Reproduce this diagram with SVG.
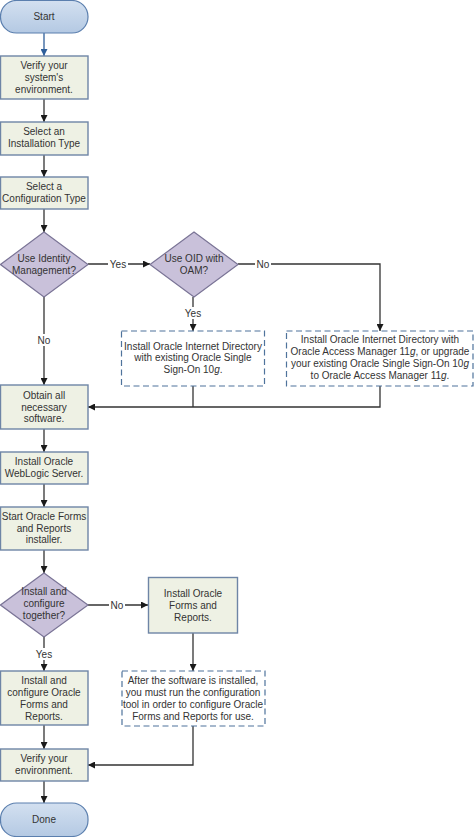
<svg xmlns="http://www.w3.org/2000/svg" width="474" height="837" viewBox="0 0 474 837">
<defs>
<marker id="ah" viewBox="0 0 10 10" refX="10" refY="5" markerWidth="7" markerHeight="7" markerUnits="userSpaceOnUse" orient="auto"><path d="M0,0 L10,5 L0,10 z" fill="#1a1a1a"/></marker>
<marker id="ahb" viewBox="0 0 10 10" refX="10" refY="5" markerWidth="7" markerHeight="7" markerUnits="userSpaceOnUse" orient="auto"><path d="M0,0 L10,5 L0,10 z" fill="#2f5f9a"/></marker>
<linearGradient id="tg" x1="0" y1="0" x2="0" y2="1"><stop offset="0" stop-color="#d3e0f0"/><stop offset="1" stop-color="#b4c9e3"/></linearGradient>
</defs>
<style>
text{font-family:"Liberation Sans",Arial,sans-serif;font-size:10px;fill:#333;text-anchor:middle}
.term{fill:url(#tg);stroke:#5b7fae;stroke-width:1.2}
.box{fill:#eef1e4;stroke:#6e85a6;stroke-width:1.4}
.dia{fill:#c9c1da;stroke:#7a7496;stroke-width:1.2}
.dash{fill:#fff;stroke:#4f739c;stroke-width:1.2;stroke-dasharray:6,3.5}
.c{fill:none;stroke:#333;stroke-width:1.3}
.lbl{fill:#fff;stroke:none}
i{font-style:italic}
</style>
<g id="connectors">
<path class="c" d="M44,33 V56" stroke="#2f5f9a" style="stroke:#2f5f9a" marker-end="url(#ahb)"/>
<path class="c" d="M44,99 V122" marker-end="url(#ah)"/>
<path class="c" d="M44,155 V177" marker-end="url(#ah)"/>
<path class="c" d="M44,209 V232" marker-end="url(#ah)"/>
<path class="c" d="M88,264 H150" marker-end="url(#ah)"/>
<path class="c" d="M238,264 H380 V331" marker-end="url(#ah)"/>
<path class="c" d="M193,297 V331" marker-end="url(#ah)"/>
<path class="c" d="M44,297 V385" marker-end="url(#ah)"/>
<path class="c" d="M193,386 V407"/>
<path class="c" d="M380,386 V407 H88" marker-end="url(#ah)"/>
<path class="c" d="M44,429 V452" marker-end="url(#ah)"/>
<path class="c" d="M44,484 V507" marker-end="url(#ah)"/>
<path class="c" d="M44,550 V573" marker-end="url(#ah)"/>
<path class="c" d="M88,605 H148" marker-end="url(#ah)"/>
<path class="c" d="M44,637 V671" marker-end="url(#ah)"/>
<path class="c" d="M193,633 V671" marker-end="url(#ah)"/>
<path class="c" d="M193,726 V765 H88" marker-end="url(#ah)"/>
<path class="c" d="M44,725 V749" marker-end="url(#ah)"/>
<path class="c" d="M44,781 V803" marker-end="url(#ah)"/>
<rect class="lbl" x="108" y="258" width="20" height="12"/>
<text x="118" y="268">Yes</text>
<rect class="lbl" x="255" y="258" width="16" height="12"/>
<text x="263" y="268">No</text>
<rect class="lbl" x="183" y="307" width="20" height="12"/>
<text x="193" y="317">Yes</text>
<rect class="lbl" x="36" y="334" width="16" height="12"/>
<text x="44" y="344">No</text>
<rect class="lbl" x="109" y="599" width="16" height="12"/>
<text x="117" y="609">No</text>
<rect class="lbl" x="34" y="648" width="20" height="12"/>
<text x="44" y="658">Yes</text>
</g>
<g id="start"><rect class="term" x="0.5" y="0.5" width="87.5" height="32.5" rx="16"/><text x="44" y="20">Start</text></g>
<g id="verify-system"><rect class="box" x="0.5" y="56" width="87.5" height="43"/><text x="44" y="68.5">Verify your</text><text x="44" y="80.5">system's</text><text x="44" y="92.5">environment.</text></g>
<g id="select-install"><rect class="box" x="0.5" y="122" width="87.5" height="33"/><text x="44" y="134.5">Select an</text><text x="44" y="146.5">Installation Type</text></g>
<g id="select-config"><rect class="box" x="0.5" y="177" width="87.5" height="32"/><text x="44" y="189.5">Select a</text><text x="44" y="201.5">Configuration Type</text></g>
<g id="use-idm"><path class="dia" d="M44,232 L88,264.5 L44,297 L0.5,264.5 z"/><text x="44" y="261.5">Use Identity</text><text x="44" y="273.5">Management?</text></g>
<g id="use-oid"><path class="dia" d="M194,232 L238,264.5 L194,297 L150,264.5 z"/><text x="194" y="261.5">Use OID with</text><text x="194" y="273.5">OAM?</text></g>
<g id="install-oid-sso"><rect class="dash" x="121.5" y="331" width="143" height="55"/><text x="193" y="349.5">Install Oracle Internet Directory</text><text x="193" y="361">with existing Oracle Single</text><text x="193" y="373">Sign-On 10<tspan font-style="italic">g</tspan>.</text></g>
<g id="install-oid-oam"><rect class="dash" x="286.5" y="331" width="186.5" height="55"/><text x="380" y="342.5">Install Oracle Internet Directory with</text><text x="380" y="354.5">Oracle Access Manager 11<tspan font-style="italic">g</tspan>, or upgrade</text><text x="380" y="366.5">your existing Oracle Single Sign-On 10<tspan font-style="italic">g</tspan></text><text x="380" y="378.5">to Oracle Access Manager 11<tspan font-style="italic">g</tspan>.</text></g>
<g id="obtain"><rect class="box" x="0.5" y="385" width="87.5" height="44"/><text x="44" y="398.5">Obtain all</text><text x="44" y="410.5">necessary</text><text x="44" y="422">software.</text></g>
<g id="install-wls"><rect class="box" x="0.5" y="452" width="87.5" height="32"/><text x="44" y="465">Install Oracle</text><text x="44" y="476.5">WebLogic Server.</text></g>
<g id="start-installer"><rect class="box" x="0.5" y="507" width="87.5" height="43"/><text x="44" y="520">Start Oracle Forms</text><text x="44" y="532">and Reports</text><text x="44" y="543">installer.</text></g>
<g id="install-together"><path class="dia" d="M44,573 L88,605 L44,637 L0.5,605 z"/><text x="44" y="595">Install and</text><text x="44" y="607">configure</text><text x="44" y="619">together?</text></g>
<g id="install-fr"><rect class="box" x="148.5" y="577.5" width="89" height="55.5"/><text x="193" y="596.5">Install Oracle</text><text x="193" y="608.5">Forms and</text><text x="193" y="620.5">Reports.</text></g>
<g id="run-config"><rect class="dash" x="122" y="671" width="143" height="55"/><text x="193" y="683.5">After the software is installed,</text><text x="193" y="695.5">you must run the configuration</text><text x="193" y="707.5">tool in order to configure Oracle</text><text x="193" y="719.5">Forms and Reports for use.</text></g>
<g id="install-config-fr"><rect class="box" x="0.5" y="671" width="87.5" height="54"/><text x="44" y="683.5">Install and</text><text x="44" y="695.5">configure Oracle</text><text x="44" y="707.5">Forms and</text><text x="44" y="719.5">Reports.</text></g>
<g id="verify-env"><rect class="box" x="0.5" y="749" width="87.5" height="32"/><text x="44" y="761.5">Verify your</text><text x="44" y="773.5">environment.</text></g>
<g id="done"><rect class="term" x="0.5" y="803" width="87.5" height="33.5" rx="16"/><text x="44" y="822.5">Done</text></g>
</svg>
